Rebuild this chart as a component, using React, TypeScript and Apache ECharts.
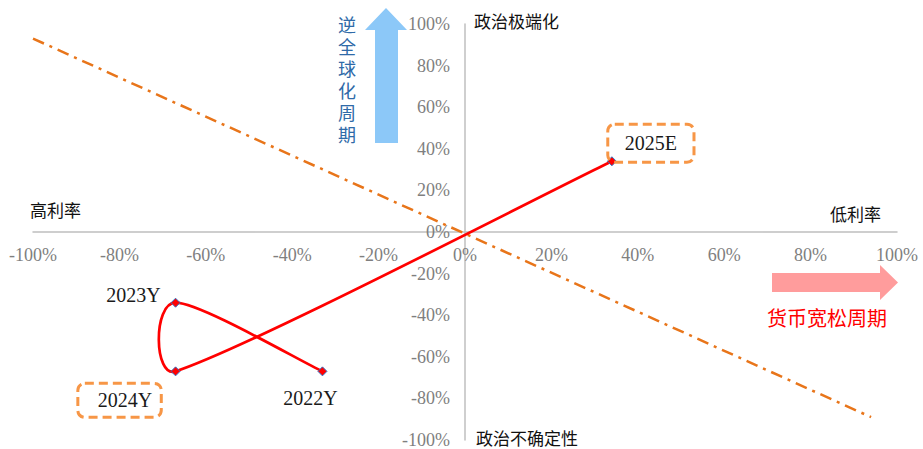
import React, { useEffect, useRef } from "react";
import * as echarts from "echarts";

const pathLabels = ["2022Y", "2023Y", "2024Y", "2025E"];
const pathX = [-33, -67, -67, 34];
const pathY = [-67, -34, -67, 34];
const guideX = [-100, 94];
const guideY = [93, -89];
const axisMin = -100;
const axisMax = 100;
const axisStep = 20;
const verticalNote = ["逆", "全", "球", "化", "周", "期"];

const serif = "'Liberation Serif', 'Times New Roman', serif";
const cjk = "'Noto Sans CJK SC', sans-serif";

const GRID = { left: 33, right: 26, top: 24, bottom: 9 };
const W = 923;
const H = 449;
const TENSION = 1 / 6;

export default function App() {
  const ref = useRef<HTMLDivElement>(null);
  useEffect(() => {
    if (!ref.current) return;
    const chart = echarts.init(ref.current, undefined, { renderer: "svg" });
    const plainLabel = (offset: number[]) => ({
      show: true,
      position: "inside",
      offset,
      fontFamily: serif,
      fontSize: 20,
      color: "#1a1a1a",
    });
    const boxLabel = (offset: number[], padding: number[]) => ({
      ...plainLabel(offset),
      borderColor: "#F79646",
      borderWidth: 3,
      borderType: [9, 5],
      borderRadius: 7,
      padding,
    });
    const labelCfg: any[] = [
      plainLabel([-12, 27]),
      plainLabel([-42, -8]),
      boxLabel([-56, 29], [7, 9, 7, 20]),
      boxLabel([39, -18], [9, 17, 9, 17]),
    ];
    const pointData = pathX.map((x, i) => ({
      value: [x, pathY[i]],
      label: { ...labelCfg[i], formatter: pathLabels[i] },
    }));
    const curveData = pathX.map((x, i) => [x, pathY[i]]);
    const guideData = guideX.map((x, i) => [x, guideY[i]]);

    const plotW = W - GRID.left - GRID.right;
    const plotH = H - GRID.top - GRID.bottom;

    const axisCommon = {
      type: "value",
      min: axisMin,
      max: axisMax,
      interval: axisStep,
      axisTick: { show: false },
      splitLine: { show: false },
    };

    // Excel-like smoothed line: Catmull-Rom tangents (tension 1/6),
    // each control vector limited to a third of its segment length.
    const renderSegment = (params: any, api: any) => {
      const i = params.dataIndex;
      const n = pathX.length;
      if (i >= n - 1) return { type: "group", children: [] };
      const P = pathX.map((x, k) => api.coord([x, pathY[k]]));
      const tangent = (k: number) => {
        const prev = P[Math.max(k - 1, 0)];
        const next = P[Math.min(k + 1, n - 1)];
        return [(next[0] - prev[0]) * TENSION, (next[1] - prev[1]) * TENSION];
      };
      const a = P[i];
      const b = P[i + 1];
      const segLen = Math.hypot(b[0] - a[0], b[1] - a[1]);
      const limit = (d: number[]) => {
        const l = Math.hypot(d[0], d[1]);
        const maxL = segLen / 3;
        if (l > maxL && l > 0) return [(d[0] * maxL) / l, (d[1] * maxL) / l];
        return d;
      };
      const d1 = limit(tangent(i));
      const d2 = limit(tangent(i + 1));
      return {
        type: "bezierCurve",
        shape: {
          x1: a[0], y1: a[1], x2: b[0], y2: b[1],
          cpx1: a[0] + d1[0], cpy1: a[1] + d1[1],
          cpx2: b[0] - d2[0], cpy2: b[1] - d2[1],
        },
        style: { stroke: "#ff0000", lineWidth: 2.7, fill: "none" },
      };
    };

    const verticalTexts = verticalNote.map((ch, i) => ({
      type: "text",
      x: 347,
      y: 24 + i * 22,
      style: {
        text: ch,
        fontFamily: cjk,
        fontSize: 18,
        fill: "#2f6aa8",
        align: "center",
        verticalAlign: "middle",
      },
    }));

    chart.setOption({
      animation: false,
      grid: { ...GRID, containLabel: false, outerBoundsMode: "none" },
      xAxis: {
        ...axisCommon,
        position: "bottom",
        offset: -plotH / 2,
        axisLine: { onZero: false, lineStyle: { color: "#bfbfbf", width: 1.5 } },
        axisLabel: {
          formatter: "{value}%",
          fontFamily: serif,
          fontSize: 18,
          color: "#7f7f7f",
          margin: 14,
        },
      },
      yAxis: {
        ...axisCommon,
        position: "left",
        offset: -plotW / 2,
        axisLine: { onZero: false, lineStyle: { color: "#bfbfbf", width: 1.5 } },
        axisLabel: {
          formatter: "{value}%",
          fontFamily: serif,
          fontSize: 18,
          color: "#7f7f7f",
          margin: 15,
        },
      },
      series: [
        {
          type: "line",
          data: guideData,
          symbol: "none",
          lineStyle: { color: "#E8751A", width: 2.5, type: [12, 6, 3, 6] },
          z: 2,
        },
        {
          type: "custom",
          data: curveData,
          renderItem: renderSegment,
          clip: false,
          z: 3,
        },
        {
          type: "scatter",
          data: pointData,
          symbol: "diamond",
          symbolSize: 9,
          itemStyle: { color: "#ff0000", borderColor: "#2f75c8", borderWidth: 1, opacity: 1 },
          z: 4,
        },
      ],
      graphic: [
        {
          type: "polygon",
          shape: {
            points: [
              [375, 143], [375, 30], [365, 30], [386, 8], [407, 30], [398, 30], [398, 143],
            ],
          },
          style: { fill: "#8cc8f8" },
        },
        {
          type: "polygon",
          shape: {
            points: [
              [772, 273], [880, 273], [880, 265], [898, 282.5], [880, 300], [880, 292], [772, 292],
            ],
          },
          style: { fill: "#ff9c9c" },
        },
        ...verticalTexts,
        {
          type: "text",
          x: 827,
          y: 317,
          style: {
            text: "货币宽松周期",
            fontFamily: cjk,
            fontSize: 20,
            fill: "#ff0000",
            align: "center",
            verticalAlign: "middle",
          },
        },
        {
          type: "text",
          x: 474,
          y: 20,
          style: { text: "政治极端化", fontFamily: cjk, fontSize: 17, fill: "#111", verticalAlign: "middle" },
        },
        {
          type: "text",
          x: 476,
          y: 437,
          style: { text: "政治不确定性", fontFamily: cjk, fontSize: 17, fill: "#111", verticalAlign: "middle" },
        },
        {
          type: "text",
          x: 30,
          y: 209,
          style: { text: "高利率", fontFamily: cjk, fontSize: 17, fill: "#111", verticalAlign: "middle" },
        },
        {
          type: "text",
          x: 830,
          y: 213,
          style: { text: "低利率", fontFamily: cjk, fontSize: 17, fill: "#111", verticalAlign: "middle" },
        },
      ],
    });
    return () => chart.dispose();
  }, []);
  return (
    <div
      ref={ref}
      style={{ position: "fixed", left: 0, top: 0, width: W, height: H, background: "#fff" }}
    />
  );
}
